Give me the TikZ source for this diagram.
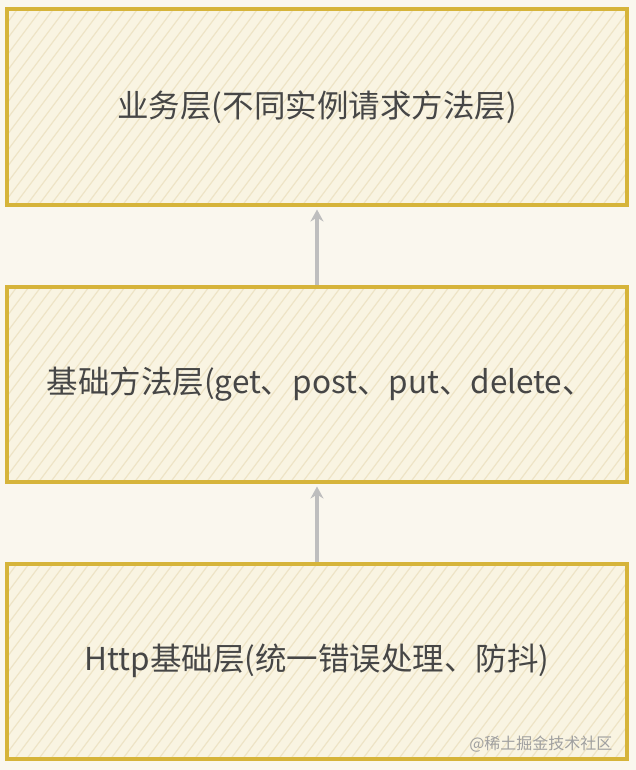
\documentclass[tikz,border=0pt]{standalone}
\usepackage{fontspec}
\setmainfont{Noto Sans CJK SC}
\usepackage{xcolor}
\definecolor{paperbg}{RGB}{250, 247, 238}
\definecolor{boxfill}{RGB}{249, 244, 226}
\definecolor{hatchline}{RGB}{238, 228, 198}
\definecolor{goldline}{RGB}{214, 180, 58}
\definecolor{arrowgray}{RGB}{190, 190, 190}
\definecolor{textgray}{RGB}{70, 70, 70}
\definecolor{markgray}{RGB}{160, 160, 160}
\usepackage{tikz}
\usetikzlibrary{arrows.meta, positioning}

\tikzset{
    hatch/.style={hatchline, line width=1.2pt},
    layerbox/.style={rectangle, draw=goldline, fill=boxfill, line width=4pt,
        minimum width=620pt, minimum height=195pt, inner sep=0pt,
        path picture={
            \foreach \d in {-160,-148,...,640}
                \draw[hatch] ([xshift=\d pt]path picture bounding box.south west) -- ++(150,-200);
        }},
    layertext/.style={text=textgray, font=\fontsize{31.5}{34}\selectfont},
    uparrow/.style={arrowgray, line width=3.5pt, -{Stealth[length=12pt,width=13pt]}, shorten >=3pt}
}

\begin{document}
\begin{tikzpicture}[x=1pt, y=-1pt, >=Stealth]
    \useasboundingbox[fill=paperbg] (0,0) rectangle (636,770);

    % three layers, top to bottom
    \node[layerbox] (biz) at (317,107) {};
    \node[layerbox] (base) at (317,384) {};
    \node[layerbox] (http) at (317,661) {};

    \node[layertext] (biztext) at (biz.center) {业务层(不同实例请求方法层)};
    \node[layertext, anchor=west] (basetext) at ([xshift=38pt]base.west) {基础方法层(get、post、put、delete、};
    \node[layertext] (httptext) at (http.center) {Http基础层(统一错误处理、防抖)};

    \draw[uparrow] (base.north) -- (biz.south);
    \draw[uparrow] (http.north) -- (base.south);

    \node[text=markgray, font=\fontsize{16}{18}\selectfont, anchor=east] (mark) at (616,744) {@稀土掘金技术社区};
\end{tikzpicture}
\end{document}
